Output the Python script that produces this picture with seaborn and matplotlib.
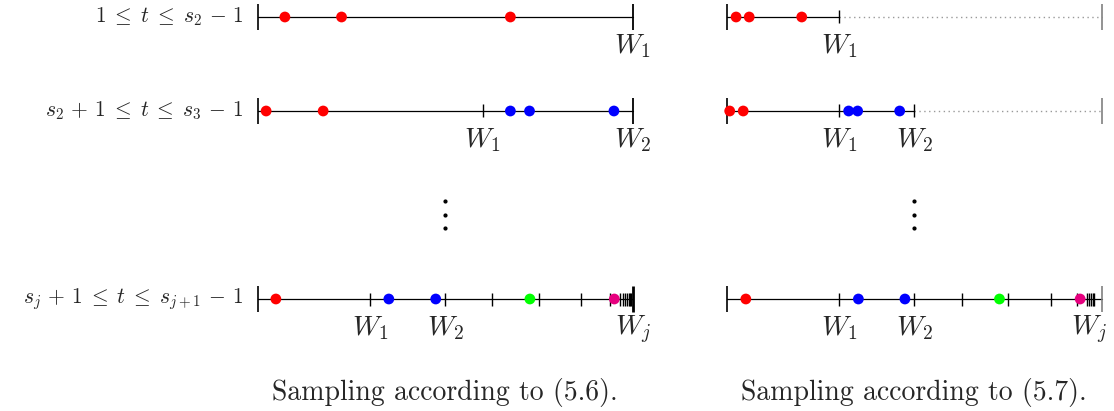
import numpy as np
import pandas as pd
import matplotlib
matplotlib.use("Agg")
import matplotlib.pyplot as plt
import seaborn as sns

sns.set_theme(style="white")
plt.rcParams["mathtext.fontset"] = "cm"

# ---- data (positions as fraction of the full interval [0, 1]) ----
row_labels = [r"$1 \;\leq\; t \;\leq\; s_2 \,-\, 1$",
              r"$s_2 \,+\, 1 \;\leq\; t \;\leq\; s_3 \,-\, 1$",
              r"$s_j \,+\, 1 \;\leq\; t \;\leq\; s_{j+1} \,-\, 1$"]
captions = ["Sampling according to (5.6).", "Sampling according to (5.7)."]

# samples, sampling according to (5.6)
pts56_row = [0, 0, 0, 1, 1, 1, 1, 1, 2, 2, 2, 2, 2]
pts56_pos = [0.073, 0.224, 0.674, 0.023, 0.175, 0.674, 0.725, 0.950,
             0.049, 0.350, 0.475, 0.726, 0.951]
pts56_col = ["r", "r", "r", "r", "r", "b", "b", "b", "r", "b", "b", "g", "m"]

# samples, sampling according to (5.7)
pts57_row = [0, 0, 0, 1, 1, 1, 1, 1, 2, 2, 2, 2, 2]
pts57_pos = [0.025, 0.060, 0.200, 0.008, 0.044, 0.325, 0.349, 0.461,
             0.051, 0.351, 0.475, 0.727, 0.942]
pts57_col = ["r", "r", "r", "r", "r", "b", "b", "b", "r", "b", "b", "g", "m"]

# partition points W_i per row
walls56 = [[1.0],
           [0.600, 1.0],
           [0.300, 0.500, 0.626, 0.749, 0.863, 0.940,
            0.966, 0.973, 0.980, 0.985, 0.989, 0.993, 0.996, 1.0]]
walls57 = [[0.300],
           [0.300, 0.500],
           [0.300, 0.500, 0.627, 0.751, 0.865, 0.934,
            0.959, 0.965, 0.972, 0.976, 0.978]]
wlab56 = [[(1.0, "W_1")], [(0.600, "W_1"), (1.0, "W_2")],
          [(0.300, "W_1"), (0.500, "W_2"), (1.0, "W_j")]]
wlab57 = [[(0.300, "W_1")], [(0.300, "W_1"), (0.500, "W_2")],
          [(0.300, "W_1"), (0.500, "W_2"), (0.966, "W_j")]]
solid57 = [0.300, 0.500, 1.0]

palette = {"r": "#ff0000", "b": "#0000ff", "g": "#00ff00", "m": "#e6007e"}

# ---- layout (pixels) ----
W, H = 1114, 411
ROW_Y = [17, 111, 299]
LEN = 375.2
fig = plt.figure(figsize=(W / 100, H / 100), dpi=100)
axL = fig.add_axes([0, 0, 680 / W, 1])
axR = fig.add_axes([680 / W, 0, (W - 680) / W, 1])
for ax, x0, lo, hi in [(axL, 257.5, 0, 680), (axR, 726.7, 680, W)]:
    ax.set_xlim((lo - x0) / LEN, (hi - x0) / LEN)
    ax.set_ylim(H, 0)
    ax.axis("off")

LONG, SHORT = 13, 6.5


def panel(ax, rows, pos, cols, walls, wlabs, solid, grey_end, caption):
    for i, y in enumerate(ROW_Y):
        ax.plot([0, solid[i]], [y, y], color="black", lw=0.9, zorder=1)
        if solid[i] < 1:
            ax.plot([solid[i], 1], [y, y], color="#999999", lw=1.0,
                    ls=(0, (1, 2.5)), zorder=1)
        ax.vlines(0, y - LONG, y + LONG, color="black", lw=1.2)
        inner = [w for w in walls[i] if w < 1]
        ax.vlines(inner, y - SHORT, y + SHORT, color="black", lw=1.0)
        if grey_end:
            ax.vlines(1, y - LONG, y + LONG, color="#808080", lw=1.2)
        else:
            ax.vlines(1, y - LONG, y + LONG, color="black",
                      lw=2.0 if i == 2 else 1.3)
        for wx, wt in wlabs[i]:
            ax.text(wx, y + 15, f"${wt}$", ha="center", va="top", fontsize=20)
    df = pd.DataFrame({"pos": pos, "y": [ROW_Y[r] for r in rows], "c": cols})
    sns.scatterplot(data=df, x="pos", y="y", hue="c", palette=palette,
                    s=60, edgecolor="none", legend=False, ax=ax, zorder=3)
    ax.scatter([0.5] * 3, [201, 215, 228], s=4, color="black", zorder=3)
    ax.text(0.5, 392, caption, ha="center", va="center", fontsize=20,
            family="cmr10")
    ax.set_xlabel("")
    ax.set_ylabel("")


panel(axL, pts56_row, pts56_pos, pts56_col, walls56, wlab56,
      [1.0, 1.0, 1.0], False, captions[0])
panel(axR, pts57_row, pts57_pos, pts57_col, walls57, wlab57,
      solid57, True, captions[1])

for i, y in enumerate(ROW_Y):
    axL.text(-0.038, y, row_labels[i], ha="right", va="center", fontsize=15.5)

fig.savefig("out.png", dpi=100)
